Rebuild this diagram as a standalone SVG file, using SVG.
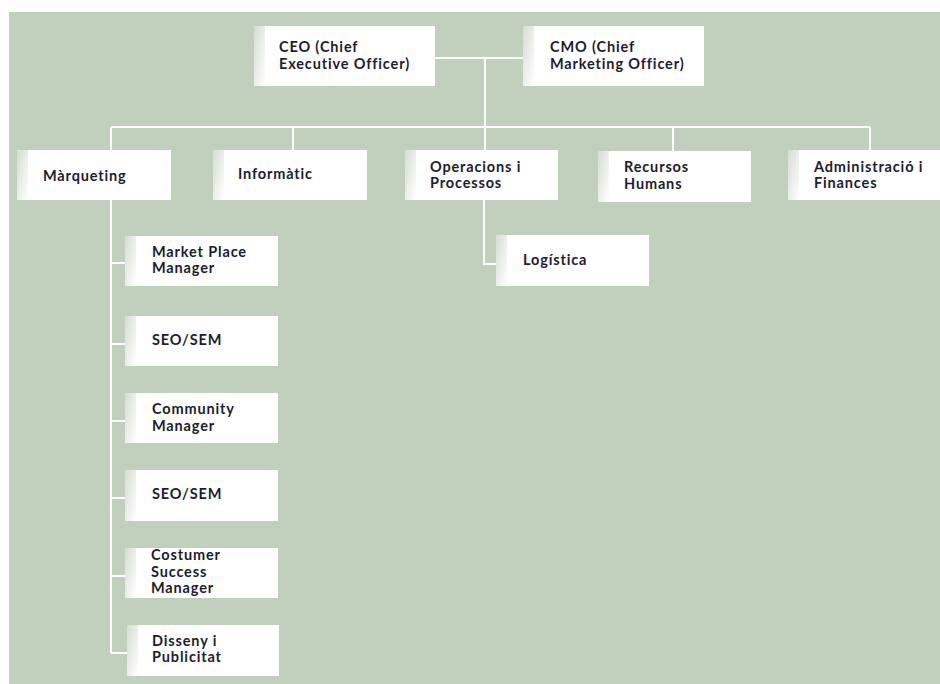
<svg xmlns="http://www.w3.org/2000/svg" width="940" height="684" viewBox="0 0 940 684">
<defs>
<linearGradient id="strip" x1="0" y1="0" x2="1" y2="1">
<stop offset="0" stop-color="#d6dcd3"/>
<stop offset="1" stop-color="#ffffff"/>
</linearGradient>
<style>
.box{fill:#ffffff}
.strip{fill:url(#strip)}
.t{font-family:Lato,"Open Sans","Liberation Sans",sans-serif;font-weight:700;font-size:14.5px;letter-spacing:0.85px;fill:#1c1d2e}
.c{stroke:#ffffff;stroke-width:2;fill:none}
</style>
</defs>
<rect x="0" y="0" width="940" height="684" fill="#ffffff"/>
<rect x="9" y="12" width="931" height="672" fill="#c1d0bc"/>
<g id="connectors">
<path class="c" d="M435 58H523M485 58V127M111 127H870M111 127V150M293 127V150M485 127V150M673 127V151M870 127V150"/>
<path class="c" d="M111 200V653M111 263H125M111 344H125M111 421H125M111 498H125M111 576H125M111 653H127"/>
<path class="c" d="M484 200V264H496"/>
</g>
<g id="ceo"><rect class="box" x="254" y="26" width="181" height="60"/><rect class="strip" x="254" y="26" width="11" height="60"/><text class="t" x="279" y="52">CEO (Chief</text><text class="t" x="279" y="69">Executive Officer)</text></g>
<g id="cmo"><rect class="box" x="523" y="26" width="181" height="60"/><rect class="strip" x="523" y="26" width="11" height="60"/><text class="t" x="550" y="52">CMO (Chief</text><text class="t" x="550" y="69">Marketing Officer)</text></g>
<g id="marqueting"><rect class="box" x="17" y="150" width="154" height="50"/><rect class="strip" x="17" y="150" width="11" height="50"/><text class="t" x="43" y="181">Màrqueting</text></g>
<g id="informatic"><rect class="box" x="213" y="150" width="154" height="50"/><rect class="strip" x="213" y="150" width="11" height="50"/><text class="t" x="238" y="179">Informàtic</text></g>
<g id="operacions"><rect class="box" x="405" y="150" width="153" height="50"/><rect class="strip" x="405" y="150" width="11" height="50"/><text class="t" x="430" y="172">Operacions i</text><text class="t" x="430" y="188">Processos</text></g>
<g id="recursos"><rect class="box" x="598" y="151" width="153" height="51"/><rect class="strip" x="598" y="151" width="11" height="51"/><text class="t" x="624" y="172">Recursos</text><text class="t" x="624" y="189">Humans</text></g>
<g id="administracio"><rect class="box" x="788" y="150" width="152" height="50"/><rect class="strip" x="788" y="150" width="11" height="50"/><text class="t" x="814" y="172">Administració i</text><text class="t" x="814" y="188">Finances</text></g>
<g id="logistica"><rect class="box" x="496" y="235" width="153" height="51"/><rect class="strip" x="496" y="235" width="11" height="51"/><text class="t" x="523" y="265">Logística</text></g>
<g id="marketplace"><rect class="box" x="125" y="236" width="153" height="50"/><rect class="strip" x="125" y="236" width="11" height="50"/><text class="t" x="152" y="257">Market Place</text><text class="t" x="152" y="273">Manager</text></g>
<g id="seosem1"><rect class="box" x="125" y="316" width="153" height="50"/><rect class="strip" x="125" y="316" width="11" height="50"/><text class="t" x="152" y="345">SEO/SEM</text></g>
<g id="community"><rect class="box" x="125" y="393" width="153" height="50"/><rect class="strip" x="125" y="393" width="11" height="50"/><text class="t" x="152" y="414">Community</text><text class="t" x="152" y="431">Manager</text></g>
<g id="seosem2"><rect class="box" x="125" y="470" width="153" height="51"/><rect class="strip" x="125" y="470" width="11" height="51"/><text class="t" x="152" y="499">SEO/SEM</text></g>
<g id="costumer"><rect class="box" x="125" y="548" width="153" height="50"/><rect class="strip" x="125" y="548" width="11" height="50"/><text class="t" x="151" y="560">Costumer</text><text class="t" x="151" y="577">Success</text><text class="t" x="151" y="593">Manager</text></g>
<g id="disseny"><rect class="box" x="127" y="625" width="152" height="51"/><rect class="strip" x="127" y="625" width="11" height="51"/><text class="t" x="152" y="646">Disseny i</text><text class="t" x="152" y="662">Publicitat</text></g>
</svg>
